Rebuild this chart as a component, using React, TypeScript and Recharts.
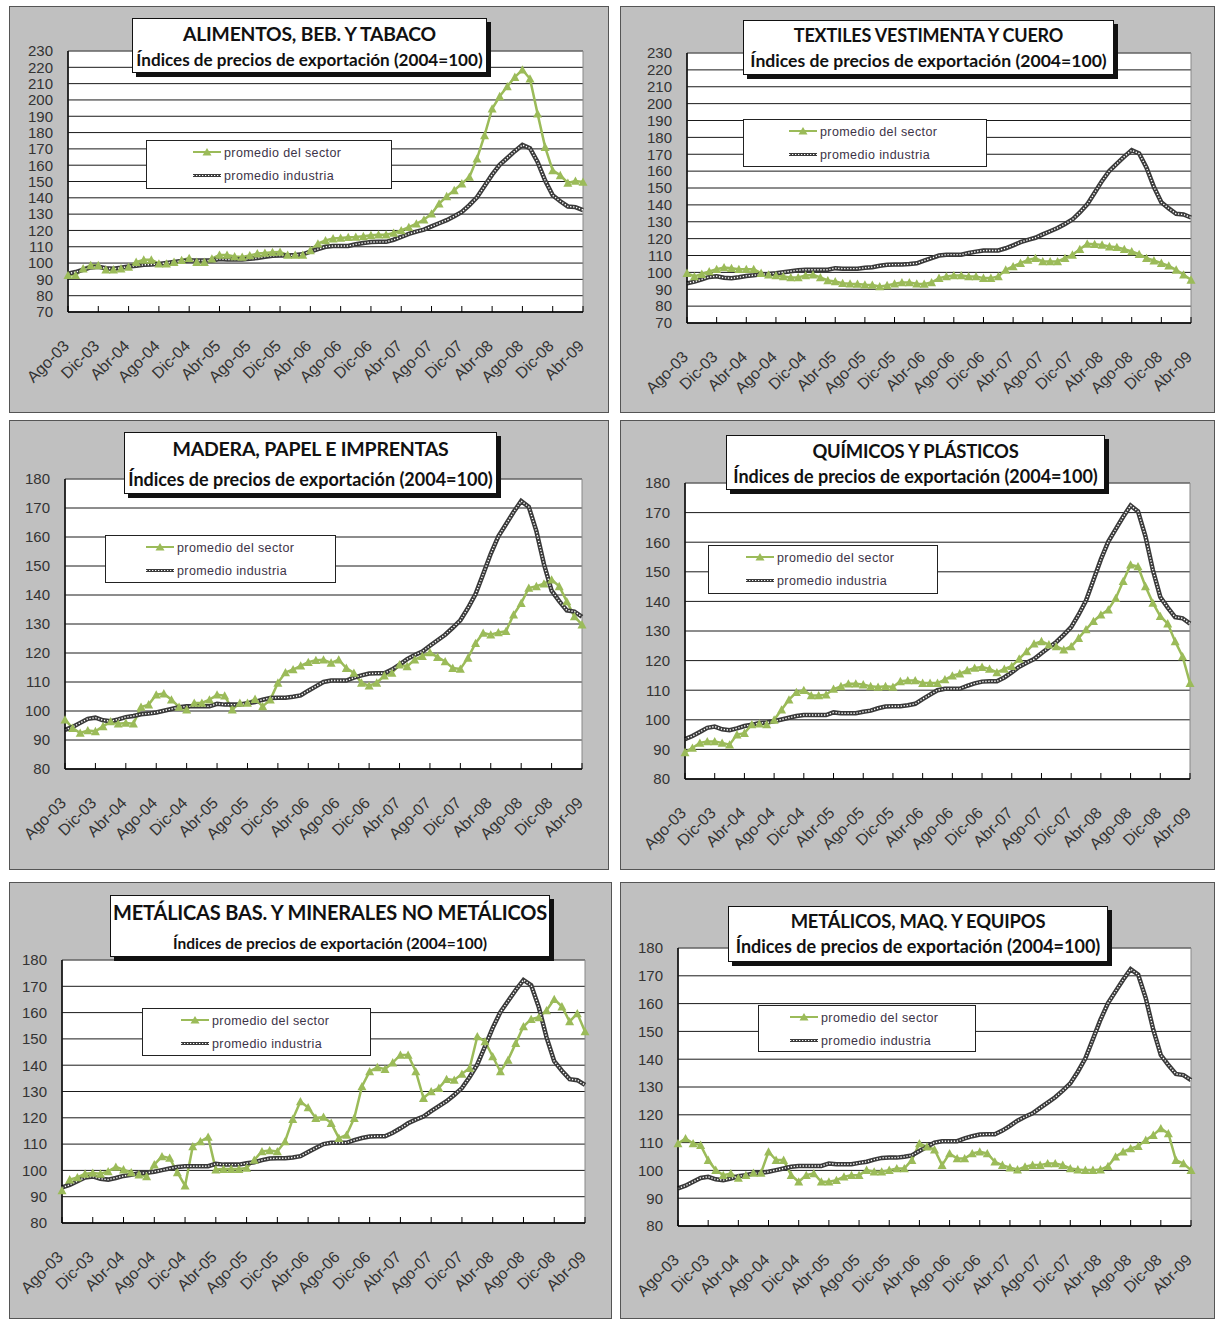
import React from 'react';
import { LineChart, Line, XAxis, YAxis, CartesianGrid, ReferenceArea } from 'recharts';

const VERDE = '#9bbb59';
const FONDO_PANEL = '#c0c0c0';
const GRIS_LINEA = '#3a3a3a';

// Meses (Ago-03 a Abr-09)
const meses = [
  'Ago-03', 'Sep-03', 'Oct-03', 'Nov-03', 'Dic-03',
  'Ene-04', 'Feb-04', 'Mar-04', 'Abr-04', 'May-04', 'Jun-04', 'Jul-04', 'Ago-04', 'Sep-04', 'Oct-04', 'Nov-04', 'Dic-04',
  'Ene-05', 'Feb-05', 'Mar-05', 'Abr-05', 'May-05', 'Jun-05', 'Jul-05', 'Ago-05', 'Sep-05', 'Oct-05', 'Nov-05', 'Dic-05',
  'Ene-06', 'Feb-06', 'Mar-06', 'Abr-06', 'May-06', 'Jun-06', 'Jul-06', 'Ago-06', 'Sep-06', 'Oct-06', 'Nov-06', 'Dic-06',
  'Ene-07', 'Feb-07', 'Mar-07', 'Abr-07', 'May-07', 'Jun-07', 'Jul-07', 'Ago-07', 'Sep-07', 'Oct-07', 'Nov-07', 'Dic-07',
  'Ene-08', 'Feb-08', 'Mar-08', 'Abr-08', 'May-08', 'Jun-08', 'Jul-08', 'Ago-08', 'Sep-08', 'Oct-08', 'Nov-08', 'Dic-08',
  'Ene-09', 'Feb-09', 'Mar-09', 'Abr-09',
];

// promedio industria (igual en los seis graficos)
const industria = [
  93.5, 94.5, 95.9, 97.3, 97.7, 96.8, 96.5, 97.1, 97.9, 98.3,
  98.9, 99.1, 99.5, 100.1, 100.7, 101.3, 101.6, 101.6, 101.6, 101.6,
  102.5, 102.2, 102.2, 102.2, 102.7, 103.1, 103.9, 104.5, 104.6, 104.6,
  104.9, 105.4, 107, 108.5, 110, 110.5, 110.5, 110.5, 111.5, 112.3,
  112.9, 113, 113, 114.3, 116, 117.9, 119.3, 120.5, 122.5, 124.4,
  126.3, 128.7, 131.3, 135.5, 140.3, 147.2, 154.2, 160.2, 164.4, 168.6,
  172.4, 170.4, 162, 150.6, 141.5, 137.9, 134.7, 134.3, 132.5,
];

const alimentos = [
  92.5, 92.5, 96.6, 98.6, 98.6, 96, 96, 96.6, 97.6, 100.6,
  102, 102, 99.6, 99.6, 100.6, 101.7, 103, 100.6, 100.6, 102.7,
  105, 105, 104, 103.7, 104.7, 105.8, 106.2, 106.6, 106.8, 105,
  105, 105, 107.8, 111.9, 113.9, 115, 115.4, 115.8, 116, 116.4,
  117, 117.4, 117.4, 118.4, 120, 122, 124.1, 126.6, 130.3, 136.4,
  140.9, 144.6, 148.7, 152.8, 164, 178.3, 194.6, 202.2, 208.3, 214,
  218.5, 213, 191.6, 171.1, 156.8, 153.8, 149.1, 150.3, 149.7,
];

const textiles = [
  99.6, 97.6, 99, 100.5, 101.9, 102.9, 102.5, 101.9, 101.9, 101.9,
  99.6, 98.6, 98.2, 97.6, 97, 97, 98.2, 98.6, 97, 95.2,
  94.6, 93.6, 93.3, 93.1, 92.7, 92.5, 91.7, 92.3, 93.3, 94,
  94, 93.3, 93.1, 94, 96.6, 97.6, 98.2, 98.2, 97.6, 97.6,
  96.6, 96.6, 97.6, 101.5, 103.5, 105.5, 107.4, 108.4, 106.5, 106.5,
  106.5, 108.4, 110.4, 113.7, 116.9, 116.7, 116.3, 115.3, 114.9, 113.7,
  112.4, 110.8, 108.4, 107, 105.5, 103.9, 101.5, 98.6, 95.6,
];

const madera = [
  97, 94.1, 92.4, 93.3, 93, 94.7, 96.4, 95.6, 95.9, 95.6,
  101.4, 102.2, 105.6, 106, 103.9, 101.4, 100.5, 102.8, 102.8, 103.9,
  105.6, 105.3, 100.5, 102.8, 102.8, 104.1, 101.6, 103.9, 109.7, 113.3,
  114.3, 115.6, 116.8, 117.5, 117.7, 116.6, 117.7, 114.8, 113.1, 109.7,
  108.7, 109.7, 112.2, 113.1, 116, 115.4, 117.7, 118.9, 120.2, 118.6,
  117.1, 114.8, 114.5, 118.3, 123.4, 126.9, 126.3, 127.1, 127.5, 133.2,
  137.2, 142.4, 143, 143.9, 145.3, 143, 137.8, 132.6, 129.8,
];

const quimicos = [
  89, 90.5, 92.2, 92.7, 92.7, 92.2, 91.6, 95, 95.5, 98.4,
  98.7, 98.4, 100, 103.4, 106.8, 109.3, 110, 108.2, 108.2, 108.5,
  110.4, 111.3, 112.2, 112.2, 111.9, 111.3, 111.1, 111.3, 111.1, 113,
  113.3, 113.3, 112.4, 112.4, 112.4, 113.6, 114.9, 115.6, 116.7, 117.5,
  117.8, 117.2, 116, 117.2, 118.1, 120.6, 123.1, 125.7, 126.5, 125.4,
  124.8, 123.7, 124.8, 127.6, 130.5, 133.3, 135.5, 137.2, 141.1, 146.8,
  152.4, 151.8, 145.1, 139.5, 135, 132.5, 126.5, 121.4, 112.4,
];

const metalicasBas = [
  92.4, 96.5, 97.3, 98.7, 99, 98.7, 99.6, 101.3, 100.3, 99.2,
  98.4, 97.7, 102.2, 105.3, 104.7, 99.2, 94.2, 109.1, 111, 112.7,
  100.3, 100.5, 100.5, 100.5, 100.9, 104, 107.2, 107.6, 107.2, 111,
  119.5, 126.2, 123.9, 119.9, 120.3, 118, 112.3, 113.5, 119.9, 131.9,
  137.6, 139.2, 138.5, 141, 143.9, 143.9, 137.6, 127.5, 130, 131.3,
  134.7, 134.4, 136.7, 138.9, 150.9, 149, 143.3, 137.6, 142, 148.4,
  154.7, 157.5, 158.2, 160.8, 165.1, 162.3, 156.6, 159.7, 152.8,
];

const metalicosMaq = [
  109.7, 111.5, 109.7, 109.1, 103.7, 100.1, 98.3, 98.9, 97.3, 98.3,
  99.1, 99.1, 106.7, 103.7, 103.7, 98.3, 95.9, 98.3, 98.9, 95.9,
  95.9, 96.5, 97.7, 98.3, 98.3, 100.1, 99.5, 99.5, 100.1, 100.7,
  100.7, 103.7, 109.7, 108.5, 107.5, 101.9, 106.1, 104.3, 104.3, 106.1,
  106.7, 106.1, 103.1, 101.9, 101, 100.3, 101.3, 101.9, 101.9, 102.5,
  102.5, 101.9, 100.7, 100.3, 100.1, 100.1, 100.3, 101.5, 104.9, 106.7,
  107.9, 108.7, 110.9, 112.7, 115.1, 113.3, 103.7, 102.5, 100.1,
];

const ticks70a230 = [70, 80, 90, 100, 110, 120, 130, 140, 150, 160, 170, 180, 190, 200, 210, 220, 230];
const ticks80a180 = [80, 90, 100, 110, 120, 130, 140, 150, 160, 170, 180];

const subtitulo = 'Índices de precios de exportación (2004=100)';

// box: panel gris, plot: area del grafico (l, t, r, b), todo en px de pagina
const paneles = [
  {
    titulo: 'ALIMENTOS, BEB. Y TABACO', sector: alimentos, ticks: ticks70a230,
    box: [9, 6, 600, 407], plot: [68, 51, 583, 312],
    tituloBox: [132, 18, 355, 55], lineas: [15, 26], letras: [19.3, 17.1],
    leyenda: [146, 140, 246, 49], muestra: 47,
  },
  {
    titulo: 'TEXTILES VESTIMENTA Y CUERO', sector: textiles, ticks: ticks70a230,
    box: [620, 6, 595, 407], plot: [687, 53, 1191, 323],
    tituloBox: [743, 20, 371, 55], lineas: [14, 26], letras: [18, 17.6],
    leyenda: [743, 119, 244, 48], muestra: 46,
  },
  {
    titulo: 'MADERA, PAPEL E IMPRENTAS', sector: madera, ticks: ticks80a180,
    box: [9, 420, 600, 450], plot: [65, 479, 582, 769],
    tituloBox: [124, 432, 373, 62], lineas: [16, 30], letras: [19.5, 18],
    leyenda: [105, 535, 231, 48], muestra: 41,
  },
  {
    titulo: 'QUÍMICOS Y PLÁSTICOS', sector: quimicos, ticks: ticks80a180,
    box: [620, 420, 595, 450], plot: [685, 483, 1190, 779],
    tituloBox: [726, 435, 379, 55], lineas: [15, 25], letras: [18.4, 18],
    leyenda: [708, 545, 230, 49], muestra: 38,
  },
  {
    titulo: 'METÁLICAS BAS. Y MINERALES NO METÁLICOS', sector: metalicasBas, ticks: ticks80a180,
    box: [9, 882, 603, 437], plot: [62, 960, 585, 1223],
    tituloBox: [110, 895, 440, 62], lineas: [16, 31], letras: [20, 15.5],
    leyenda: [142, 1008, 229, 48], muestra: 39,
  },
  {
    titulo: 'METÁLICOS, MAQ. Y EQUIPOS', sector: metalicosMaq, ticks: ticks80a180,
    box: [620, 882, 595, 437], plot: [678, 948, 1191, 1226],
    tituloBox: [728, 906, 380, 56], lineas: [14, 25], letras: [18.4, 18],
    leyenda: [758, 1005, 218, 47], muestra: 32,
  },
];

const FUENTE_EJES = '"Liberation Sans", Arial, sans-serif';
const FUENTE_TITULO = 'Lato, "Open Sans", sans-serif';

const Triangulo = (props: any) => {
  const { cx, cy, index } = props;
  if (cx == null || cy == null) return <g key={`t-${index}`} />;
  const s = 4.5;
  return (
    <path
      key={`t-${index}`}
      d={`M${cx},${cy - s} L${cx + s},${cy + s * 0.85} L${cx - s},${cy + s * 0.85} Z`}
      fill={VERDE}
    />
  );
};

const TickMes = (props: any) => {
  const { x, y, payload } = props;
  return (
    <g transform={`translate(${x + 2},${y + 35})`}>
      <text
        x={0}
        y={0}
        textAnchor="end"
        transform="rotate(-45)"
        fontSize={16}
        fontFamily={FUENTE_EJES}
        fill="#333"
      >
        {payload.value}
      </text>
    </g>
  );
};

const Panel = ({ p }: { p: any }) => {
  const [bx, by, bw, bh] = p.box;
  const [pl, pt, pr, pb] = p.plot;
  const ANCHO_Y = 50;
  const ALTO_X = 80;
  const margin = {
    left: pl - bx - ANCHO_Y,
    top: pt - by,
    right: bx + bw - pr,
    bottom: bh - (pb - by) - ALTO_X,
  };
  const datos = meses.map((mes, i) => ({ mes, sector: p.sector[i], industria: industria[i] }));
  const dominio = [p.ticks[0], p.ticks[p.ticks.length - 1]];
  const [tx, ty, tw, th] = p.tituloBox;
  const [lx, ly, lw, lh] = p.leyenda;

  return (
    <div
      style={{
        position: 'absolute',
        left: bx,
        top: by,
        width: bw,
        height: bh,
        background: FONDO_PANEL,
        boxShadow: 'inset 0 0 0 1px #555',
      }}
    >
      <LineChart width={bw} height={bh} data={datos} margin={margin}>
        <CartesianGrid vertical={false} stroke="#1a1a1a" fill="#fff" fillOpacity={1} />
        <ReferenceArea
          x1={meses[0]}
          x2={meses[meses.length - 1]}
          y1={dominio[0]}
          y2={dominio[1]}
          fill="none"
          stroke="#888"
          strokeWidth={1}
          ifOverflow="visible"
        />
        <XAxis
          dataKey="mes"
          interval={3}
          height={ALTO_X}
          tickSize={-6}
          tickMargin={6}
          tick={<TickMes />}
          axisLine={{ stroke: '#000', strokeWidth: 1.5 }}
          tickLine={{ stroke: '#000' }}
        />
        <YAxis
          type="number"
          domain={dominio}
          ticks={p.ticks}
          interval={0}
          width={ANCHO_Y}
          tickLine={false}
          tickSize={6}
          tickMargin={9}
          axisLine={{ stroke: '#000', strokeWidth: 1.5 }}
          tick={{ fontSize: 15, fontFamily: FUENTE_EJES, fill: '#333' }}
        />
        <Line
          dataKey="sector"
          stroke={VERDE}
          strokeWidth={2.5}
          dot={Triangulo}
          activeDot={false}
          isAnimationActive={false}
        />
        <Line
          dataKey="industria"
          stroke={GRIS_LINEA}
          strokeWidth={4.5}
          dot={false}
          activeDot={false}
          isAnimationActive={false}
        />
        <Line
          dataKey="industria"
          stroke="#fff"
          strokeWidth={1.4}
          strokeDasharray="1.3 1.7"
          dot={false}
          activeDot={false}
          isAnimationActive={false}
        />
      </LineChart>

      {/* leyenda */}
      <div
        style={{
          position: 'absolute',
          left: lx - bx,
          top: ly - by,
          width: lw,
          height: lh,
          background: '#fff',
          border: '1px solid #222',
          boxSizing: 'border-box',
        }}
      >
        <svg
          width={lw}
          height={lh}
          style={{ position: 'absolute', left: -1, top: -1 }}
        >
          <line x1={p.muestra} x2={p.muestra + 28} y1={12} y2={12} stroke={VERDE} strokeWidth={2} />
          <path d={`M${p.muestra + 14},${8} L${p.muestra + 18.5},${15.5} L${p.muestra + 9.5},${15.5} Z`} fill={VERDE} />
          <line x1={p.muestra} x2={p.muestra + 28} y1={35.5} y2={35.5} stroke={GRIS_LINEA} strokeWidth={3} />
          <line x1={p.muestra} x2={p.muestra + 28} y1={35.5} y2={35.5} stroke="#fff" strokeWidth={1} strokeDasharray="1.3 1.7" />
          <text x={p.muestra + 31} y={16.5} fontSize={12.5} fontFamily={FUENTE_EJES} fill="#3d3347" letterSpacing={0.4}>
            promedio del sector
          </text>
          <text x={p.muestra + 31} y={40} fontSize={12.5} fontFamily={FUENTE_EJES} fill="#3d3347" letterSpacing={0.4}>
            promedio industria
          </text>
        </svg>
      </div>

      {/* titulo */}
      <div
        style={{
          position: 'absolute',
          left: tx - bx,
          top: ty - by,
          width: tw,
          height: th,
          background: '#fff',
          border: '1px solid #111',
          boxSizing: 'border-box',
          boxShadow: '4px 4px 0 #111',
          fontFamily: FUENTE_TITULO,
          fontWeight: 700,
          color: '#111',
          whiteSpace: 'nowrap',
        }}
      >
        <div
          style={{
            position: 'absolute',
            left: -10,
            right: -10,
            top: p.lineas[0] - 12,
            height: 24,
            lineHeight: '24px',
            textAlign: 'center',
            fontSize: p.letras[0],
            letterSpacing: -0.2,
          }}
        >
          {p.titulo}
        </div>
        <div
          style={{
            position: 'absolute',
            left: -10,
            right: -10,
            top: p.lineas[0] + p.lineas[1] - 12,
            height: 24,
            lineHeight: '24px',
            textAlign: 'center',
            fontSize: p.letras[1],
          }}
        >
          {subtitulo}
        </div>
      </div>
    </div>
  );
};

export default function App() {
  return (
    <div
      style={{
        position: 'absolute',
        left: 0,
        top: 0,
        width: 1216,
        height: 1319,
        background: '#fff',
        overflow: 'hidden',
      }}
    >
      {paneles.map((p) => (
        <Panel key={p.titulo} p={p} />
      ))}
    </div>
  );
}
